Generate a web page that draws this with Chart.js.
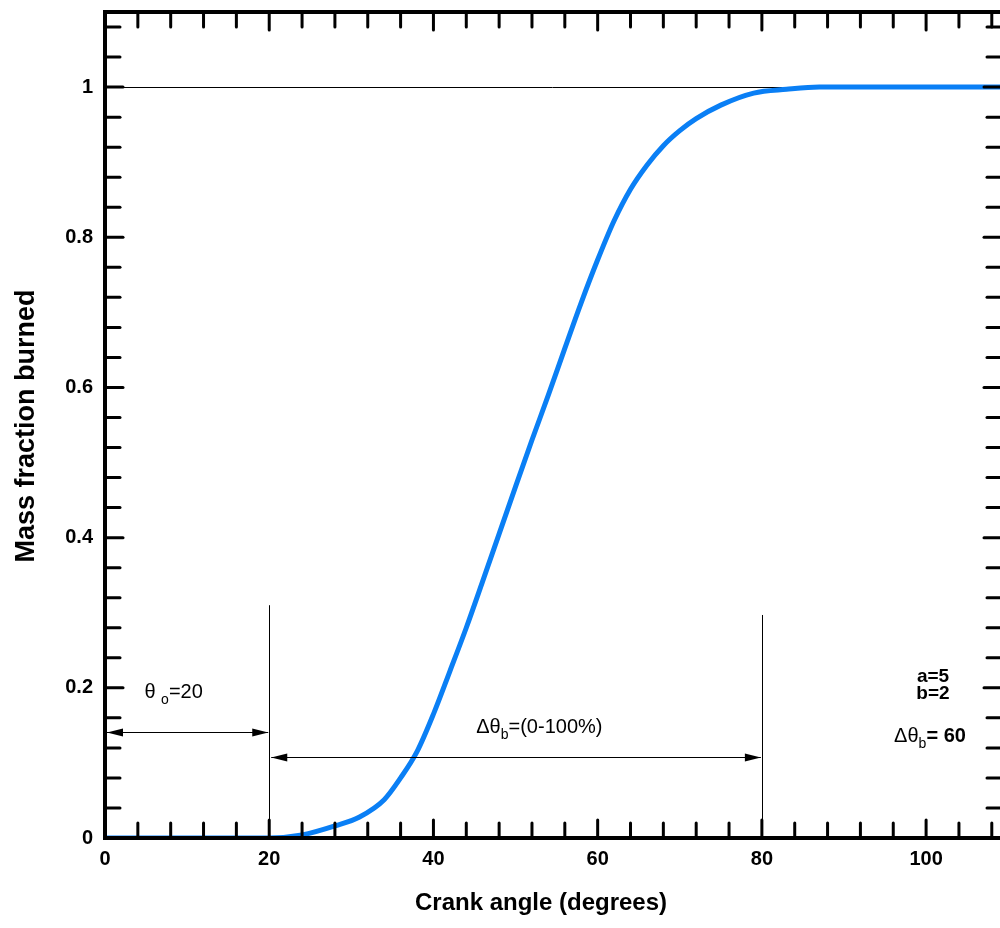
<!DOCTYPE html>
<html>
<head>
<meta charset="utf-8">
<script src="https://cdn.jsdelivr.net/npm/chart.js@4.4.1/dist/chart.umd.min.js"></script>
<style>
  html, body { margin: 0; padding: 0; background: #fff; }
  #wrap { width: 1000px; height: 928px; }
</style>
</head>
<body>
<div id="wrap"><canvas id="mfbChart" width="1000" height="928"></canvas></div>
<script>
// Datos (fracción de masa quemada vs ángulo de cigüeñal)
const crankAngle   = [0, 20, 24, 28, 31, 34, 36, 38, 40, 42, 44, 46, 48, 50, 52, 54, 56, 58, 60, 62, 64, 66, 68, 70, 72, 75, 79, 83, 87, 109];
const massFraction = [0, 0, 0.004, 0.016, 0.028, 0.051, 0.08, 0.115, 0.165, 0.222, 0.28, 0.342, 0.405, 0.468, 0.53, 0.59, 0.652, 0.713, 0.77, 0.822, 0.864, 0.896, 0.922, 0.942, 0.958, 0.976, 0.992, 0.997, 1.0, 1.0];

// Etiquetas de los ejes y marcas menores
const xLabelTicks = [0, 20, 40, 60, 80, 100];
const yLabelTicks = [0, 0.2, 0.4, 0.6, 0.8, 1];
const xMinorTicks = [0, 4, 8, 12, 16, 20, 24, 28, 32, 36, 40, 44, 48, 52, 56, 60, 64, 68, 72, 76, 80, 84, 88, 92, 96, 100, 104, 108];
const yMinorTicks = [0, 0.04, 0.08, 0.12, 0.16, 0.2, 0.24, 0.28, 0.32, 0.36, 0.4, 0.44, 0.48, 0.52, 0.56, 0.6, 0.64, 0.68, 0.72, 0.76, 0.8, 0.84, 0.88, 0.92, 0.96, 1, 1.04, 1.08];

// Anotaciones
const ignitionAngle = 20;     // θo
const burnEndAngle = 80;      // θo + Δθb
const ignitionLineTop = 0.31;
const burnEndLineTop = 0.297;
const ignitionArrowLevel = 0.141;
const burnArrowLevel = 0.108;

const FONT = "'Liberation Sans', Arial, Helvetica, sans-serif";

// Dibuja texto con subíndices, partes = [{t, sub}]
function drawRich(ctx, parts, x, y, size, weight, align) {
    const subSize = Math.round(size * 0.72);
    let total = 0;
    parts.forEach(p => {
        ctx.font = `${p.bold === false ? 'normal' : weight} ${p.sub ? subSize : size}px ${FONT}`;
        p.w = ctx.measureText(p.t).width;
        total += p.w;
    });
    let cx = align === 'center' ? x - total / 2 : x;
    ctx.textAlign = 'left';
    ctx.textBaseline = 'alphabetic';
    parts.forEach(p => {
        ctx.font = `${p.bold === false ? 'normal' : weight} ${p.sub ? subSize : size}px ${FONT}`;
        ctx.fillText(p.t, cx, p.sub ? y + size * 0.3 : y);
        cx += p.w;
    });
}

function arrowHead(ctx, x, y, dir) {
    ctx.beginPath();
    ctx.moveTo(x, y);
    ctx.lineTo(x - dir * 16, y - 4);
    ctx.lineTo(x - dir * 16, y + 4);
    ctx.closePath();
    ctx.fill();
}

const framePlugin = {
    id: 'frame',
    beforeDatasetsDraw(chart) {
        const { ctx, chartArea: a, scales: { x, y } } = chart;
        ctx.save();
        ctx.strokeStyle = '#000';
        ctx.lineWidth = 1;
        // línea de referencia en 1
        const y1 = Math.round(y.getPixelForValue(1)) + 0.5;
        ctx.beginPath();
        ctx.moveTo(a.left, y1);
        ctx.lineTo(a.right, y1);
        ctx.stroke();
        // líneas verticales en θo y θo+Δθb
        [[ignitionAngle, ignitionLineTop], [burnEndAngle, burnEndLineTop]].forEach(([v, top]) => {
            const px = Math.round(x.getPixelForValue(v)) + 0.5;
            ctx.beginPath();
            ctx.moveTo(px, a.bottom);
            ctx.lineTo(px, y.getPixelForValue(top));
            ctx.stroke();
        });
        ctx.restore();
    },
    afterDatasetsDraw(chart) {
        const { ctx, chartArea: a, scales: { x, y } } = chart;
        ctx.save();
        ctx.fillStyle = '#000';
        ctx.strokeStyle = '#000';

        // flechas
        ctx.lineWidth = 1;
        const ay1 = Math.round(y.getPixelForValue(ignitionArrowLevel)) + 0.5;
        const x0 = x.getPixelForValue(0) + 2;
        const x20 = x.getPixelForValue(ignitionAngle) - 1;
        ctx.beginPath(); ctx.moveTo(x0, ay1); ctx.lineTo(x20, ay1); ctx.stroke();
        arrowHead(ctx, x0, ay1, -1);
        arrowHead(ctx, x20, ay1, 1);

        const ay2 = Math.round(y.getPixelForValue(burnArrowLevel)) + 0.5;
        const xa = x.getPixelForValue(ignitionAngle) + 2;
        const xb = x.getPixelForValue(burnEndAngle) - 1;
        ctx.beginPath(); ctx.moveTo(xa, ay2); ctx.lineTo(xb, ay2); ctx.stroke();
        arrowHead(ctx, xa, ay2, -1);
        arrowHead(ctx, xb, ay2, 1);

        // marco con marcas hacia adentro
        ctx.lineWidth = 4;
        ctx.lineCap = 'butt';
        ctx.strokeRect(a.left, a.top, a.right - a.left + 2, a.bottom - a.top);
        ctx.lineWidth = 3;
        ctx.lineCap = 'round';
        xMinorTicks.forEach(v => {
            const px = x.getPixelForValue(v);
            const len = xLabelTicks.includes(v) ? 18 : 15;
            ctx.beginPath(); ctx.moveTo(px, a.bottom); ctx.lineTo(px, a.bottom - len); ctx.stroke();
            ctx.beginPath(); ctx.moveTo(px, a.top); ctx.lineTo(px, a.top + len); ctx.stroke();
        });
        yMinorTicks.forEach(v => {
            const py = y.getPixelForValue(v);
            const major = yLabelTicks.some(t => Math.abs(t - v) < 1e-9);
            const len = major ? 18 : 15;
            ctx.beginPath(); ctx.moveTo(a.left, py); ctx.lineTo(a.left + len, py); ctx.stroke();
            ctx.beginPath(); ctx.moveTo(a.right + 2, py); ctx.lineTo(a.right + 2 - len, py); ctx.stroke();
        });

        // textos
        drawRich(ctx, [{ t: 'θ ' }, { t: 'o', sub: true }, { t: '=20' }],
            x.getPixelForValue(4.8), y.getPixelForValue(0.187), 20, 'normal', 'left');
        drawRich(ctx, [{ t: 'Δθ' }, { t: 'b', sub: true }, { t: '=(0-100%)' }],
            x.getPixelForValue(52.9), y.getPixelForValue(0.14), 20, 'normal', 'center');

        ctx.font = `bold 19px ${FONT}`;
        ctx.textAlign = 'center';
        ctx.textBaseline = 'alphabetic';
        ctx.fillText('a=5', 933, 682);
        ctx.fillText('b=2', 933, 699);
        drawRich(ctx, [{ t: 'Δθ', bold: false }, { t: 'b', sub: true, bold: false }, { t: '= 60' }],
            930, 742, 20, 'bold', 'center');

        // títulos de ejes
        ctx.font = `bold 24px ${FONT}`;
        ctx.textAlign = 'center';
        ctx.textBaseline = 'middle';
        ctx.fillText('Crank angle (degrees)', 541, 903);
        ctx.font = `bold 27px ${FONT}`;
        ctx.translate(27, 426);
        ctx.rotate(-Math.PI / 2);
        ctx.fillText('Mass fraction burned', 0, 0);
        ctx.restore();
    }
};

const ctx = document.getElementById('mfbChart');
const mfbChart = new Chart(ctx, {
    type: 'line',
    data: {
        datasets: [{
            label: 'Mass fraction burned',
            data: crankAngle.map((v, i) => ({ x: v, y: massFraction[i] })),
            borderColor: '#0a7ff5',
            borderWidth: 5,
            pointRadius: 0,
            fill: false,
            cubicInterpolationMode: 'monotone'
        }]
    },
    options: {
        responsive: false,
        animation: false,
        devicePixelRatio: 1,
        layout: { padding: { top: 12, right: 0, left: 0, bottom: 0 } },
        plugins: { legend: { display: false }, tooltip: { enabled: false } },
        scales: {
            x: {
                type: 'linear',
                min: 0,
                max: 109,
                grid: { display: false, drawTicks: false },
                border: { display: false },
                afterBuildTicks: scale => { scale.ticks = xLabelTicks.map(v => ({ value: v })); },
                afterFit: scale => {
                    scale.height = 90;
                    scale.paddingLeft = 0;
                    scale.paddingRight = 0;
                },
                ticks: {
                    padding: 9,
                    color: '#000',
                    font: { family: FONT, size: 20, weight: 'bold' },
                    callback: v => String(v)
                }
            },
            y: {
                min: 0,
                max: 1.1,
                grid: { display: false, drawTicks: false },
                border: { display: false },
                afterBuildTicks: scale => { scale.ticks = yLabelTicks.map(v => ({ value: v })); },
                afterFit: scale => {
                    scale.width = 105;
                    scale.paddingTop = 0;
                    scale.paddingBottom = 0;
                },
                ticks: {
                    padding: 12,
                    color: '#000',
                    font: { family: FONT, size: 20, weight: 'bold' },
                    callback: v => String(Math.round(v * 10) / 10)
                }
            }
        }
    },
    plugins: [framePlugin]
});
</script>
</body>
</html>
